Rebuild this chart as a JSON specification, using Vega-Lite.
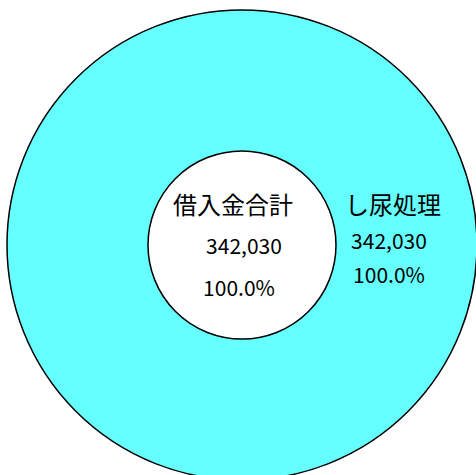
{
  "$schema": "https://vega.github.io/schema/vega-lite/v6.json",
  "width": 468,
  "height": 460,
  "autosize": {"type": "none"},
  "padding": {"left": 8, "top": 15, "right": 0, "bottom": 0},
  "background": "white",
  "data": {"values": [
    {"category": "し尿処理", "value": 342030, "share": 1.0, "total": "借入金合計"}
  ]},
  "encoding": {
    "theta": {"field": "value", "type": "quantitative", "stack": true, "scale": {"range": [-1.5707963267948966, 4.71238898038469]}}
  },
  "layer": [
    {"mark": {"type": "arc", "radius": 235, "radius2": 94, "fill": "#66FFFF", "stroke": "black", "strokeWidth": 1.5}},
    {"mark": {"type": "text", "radius": 0, "dx": -9, "dy": -38, "font": "Noto Sans CJK JP", "fontSize": 24, "fill": "black"},
     "encoding": {"text": {"field": "total"}}},
    {"mark": {"type": "text", "radius": 0, "dx": 2, "dy": 3, "font": "Noto Sans CJK JP", "fontSize": 21, "fill": "black"},
     "encoding": {"text": {"aggregate": "sum", "field": "value", "format": ","}}},
    {"mark": {"type": "text", "radius": 0, "dx": -3, "dy": 45, "font": "Noto Sans CJK JP", "fontSize": 21, "fill": "black"},
     "encoding": {"text": {"field": "share", "format": ".1%"}}},
    {"mark": {"type": "text", "radius": 148, "dx": 3, "dy": -38, "font": "Noto Sans CJK JP", "fontSize": 24, "fill": "black"},
     "encoding": {"text": {"field": "category"}}},
    {"mark": {"type": "text", "radius": 148, "dx": -1, "dy": -2, "font": "Noto Sans CJK JP", "fontSize": 21, "fill": "black"},
     "encoding": {"text": {"field": "value", "format": ","}}},
    {"mark": {"type": "text", "radius": 148, "dx": -1, "dy": 32, "font": "Noto Sans CJK JP", "fontSize": 21, "fill": "black"},
     "encoding": {"text": {"field": "share", "format": ".1%"}}}
  ]
}
